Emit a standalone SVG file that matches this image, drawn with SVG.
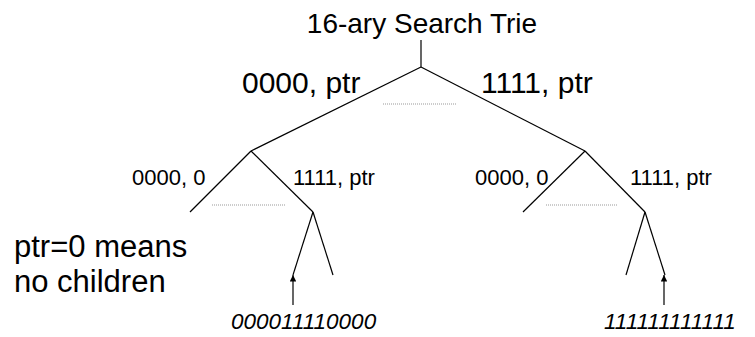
<svg xmlns="http://www.w3.org/2000/svg" width="755" height="337" viewBox="0 0 755 337">
  <style>
    text { font-family: "Liberation Sans", Arial, sans-serif; fill: #000; }
    .title { font-size: 28px; }
    .big { font-size: 30px; }
    .note { font-size: 31px; }
    .small { font-size: 22px; }
    .key { font-size: 22.5px; font-style: italic; }
    .edge { stroke: #000; stroke-width: 1.2; fill: none; }
    .gap { stroke: #999; stroke-width: 1; stroke-dasharray: 1 1; fill: none; }
  </style>
  <defs>
    <marker id="arrow" viewBox="0 0 10 10" refX="10" refY="5" markerWidth="5.5" markerHeight="5.5" markerUnits="strokeWidth" orient="auto">
      <path d="M0,0 L10,5 L0,10 z" fill="#000"/>
    </marker>
  </defs>
  <rect width="755" height="337" fill="#fff"/>

  <g id="title">
    <text class="title" x="422" y="33" text-anchor="middle">16-ary Search Trie</text>
  </g>

  <g id="connectors">
    <!-- root -->
    <line class="edge" x1="421" y1="40" x2="421" y2="67"/>
    <line class="edge" x1="421" y1="67" x2="251" y2="151"/>
    <line class="edge" x1="421" y1="67" x2="585" y2="151"/>
    <line class="gap" x1="383" y1="104" x2="456" y2="104"/>
    <!-- left subtree -->
    <line class="edge" x1="251" y1="151" x2="190" y2="212"/>
    <line class="edge" x1="251" y1="151" x2="313" y2="212"/>
    <line class="gap" x1="212" y1="205" x2="285" y2="205"/>
    <line class="edge" x1="313" y1="212" x2="293" y2="275"/>
    <line class="edge" x1="313" y1="212" x2="333" y2="275"/>
    <!-- right subtree -->
    <line class="edge" x1="585" y1="151" x2="523" y2="212"/>
    <line class="edge" x1="585" y1="151" x2="645" y2="212"/>
    <line class="gap" x1="546" y1="205" x2="618" y2="205"/>
    <line class="edge" x1="645" y1="212" x2="626" y2="275"/>
    <line class="edge" x1="645" y1="212" x2="665" y2="275"/>
    <!-- key pointers -->
    <line class="edge" x1="293" y1="305" x2="293" y2="275" marker-end="url(#arrow)"/>
    <line class="edge" x1="664" y1="305" x2="664" y2="275" marker-end="url(#arrow)"/>
  </g>

  <g id="root">
    <text class="big" x="242" y="93">0000, ptr</text>
    <text class="big" x="481" y="93">1111, ptr</text>
  </g>

  <g id="left-node">
    <text class="small" x="132" y="185">0000, 0</text>
    <text class="small" x="293" y="185">1111, ptr</text>
  </g>

  <g id="right-node">
    <text class="small" x="475" y="185">0000, 0</text>
    <text class="small" x="630" y="185">1111, ptr</text>
  </g>

  <g id="note">
    <text class="note" x="14" y="257">ptr=0 means</text>
    <text class="note" x="14" y="292">no children</text>
  </g>

  <g id="key-left">
    <text class="key" x="231" y="329">000011110000</text>
  </g>
  <g id="key-right">
    <text class="key" x="604" y="329">111111111111</text>
  </g>
</svg>
